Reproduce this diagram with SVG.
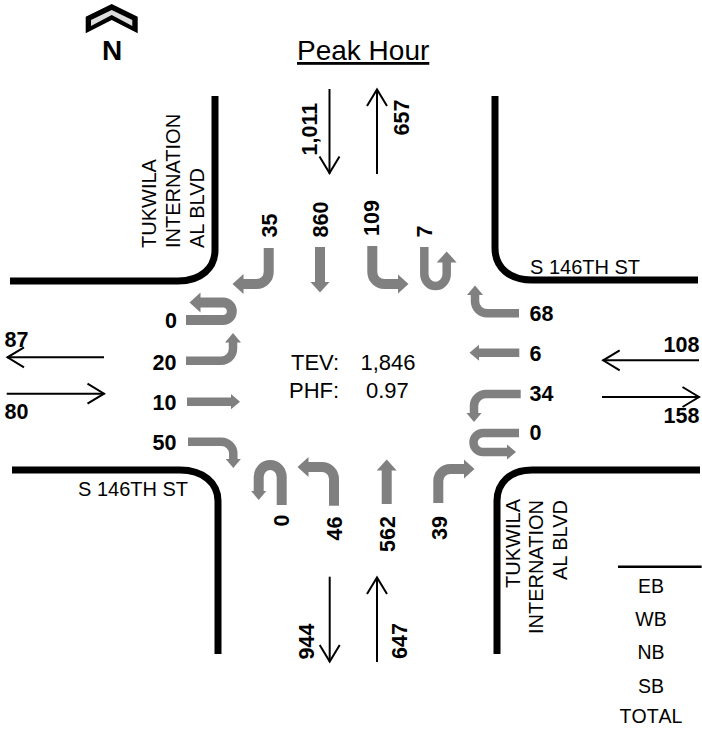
<svg xmlns="http://www.w3.org/2000/svg" width="702" height="730" viewBox="0 0 702 730">
<style>
text{font-family:"Liberation Sans",Arial,sans-serif;fill:#000}
.b{font-weight:700;font-size:21.5px}
.r{font-size:20px}
.c{font-size:22px}
.m{font-size:19.5px;text-anchor:middle}
.e{text-anchor:end}
.road{fill:none;stroke:#000;stroke-width:7}
.mv{fill:none;stroke:#808080;stroke-width:10}
.n{stroke-width:8.5}
.t{fill:none;stroke:#000;stroke-width:2}
</style>
<defs>
<marker id="h" markerUnits="userSpaceOnUse" orient="auto" markerWidth="14" markerHeight="22" refX="0.5" refY="10.5" viewBox="0 0 14 21"><path d="M0 0.5L11 10.5L0 20.5Z" fill="#808080"/></marker>
<marker id="k" markerUnits="userSpaceOnUse" orient="auto" markerWidth="14" markerHeight="18" refX="0.5" refY="8.5" viewBox="0 0 14 17"><path d="M0 0.5L9.5 8.5L0 16.5Z" fill="#808080"/></marker>
<marker id="o" markerUnits="userSpaceOnUse" orient="auto" markerWidth="22" markerHeight="24" refX="19" refY="12" viewBox="0 0 22 24"><path d="M2 2L18.5 12L2 22" fill="none" stroke="#000" stroke-width="2"/></marker>
</defs>
<g id="north"><path d="M85.7 16.7L111.7 4L137.7 16.7V33.3L111.7 20L85.7 33.3Z" fill="#000"/><path d="M91 20L111.7 10L132.3 20V26L111.7 15L91 26Z" fill="#ddd"/><text x="112" y="59.5" font-size="28" font-weight="700" text-anchor="middle">N</text></g>
<g id="title"><text x="297" y="60" font-size="28" text-decoration="underline">Peak Hour</text></g>
<g id="roads">
<path class="road" d="M10 281H178C201 281 215 268 215 250V96"/>
<path class="road" d="M495 96V248C495 268 510 280 532 280H698"/>
<path class="road" d="M12 470H180C203 470 218 483 218 501V654"/>
<path class="road" d="M700 470H532C510 470 497 483 497 501V654"/>
</g>
<g id="connectors">
<path class="t" marker-end="url(#o)" d="M329.5 89V173.5"/>
<path class="t" marker-end="url(#o)" d="M377 174V89"/>
<path class="t" marker-end="url(#o)" d="M329.7 576.7V662"/>
<path class="t" marker-end="url(#o)" d="M377 662V577"/>
<path class="t" marker-end="url(#o)" d="M104 357.3H7"/>
<path class="t" marker-end="url(#o)" d="M6.7 393.7H104.5"/>
<path class="t" marker-end="url(#o)" d="M699 360.3H602.7"/>
<path class="t" marker-end="url(#o)" d="M602 397H699.5"/>
<path class="mv" marker-end="url(#h)" d="M268.7 248V272A12 12 0 0 1 256.7 284H243"/>
<path class="mv" marker-end="url(#h)" d="M320 247V282"/>
<path class="mv" marker-end="url(#h)" d="M372.3 246V272A12 12 0 0 0 384.3 284H398"/>
<path class="mv n" marker-end="url(#h)" d="M424.3 247V274A11.2 12 0 0 0 446.7 274V262"/>
<path class="mv n" marker-end="url(#k)" d="M519 313.3H487A12 12 0 0 1 475 301.3V294.5"/>
<path class="mv n" marker-end="url(#k)" d="M519.3 352.7H478.5"/>
<path class="mv n" marker-end="url(#k)" d="M520.7 394H486A12 12 0 0 0 474 406V413"/>
<path class="mv n" marker-end="url(#k)" d="M519 433H483A9.5 9.5 0 0 0 483 452H507"/>
<path class="mv" marker-end="url(#h)" d="M186 320H223A8.8 8.8 0 0 0 223 302.4H200"/>
<path class="mv n" marker-end="url(#k)" d="M186 360.7H221A12 12 0 0 0 233 348.7V342"/>
<path class="mv n" marker-end="url(#k)" d="M187 401.7H231"/>
<path class="mv n" marker-end="url(#k)" d="M188 441.7H221.3A12 12 0 0 1 233.3 453.7V459"/>
<path class="mv" marker-end="url(#k)" d="M281.7 505V477A11.5 12 0 0 0 258.7 477V491"/>
<path class="mv" marker-end="url(#h)" d="M334 505.7V479A12 12 0 0 0 322 467H308"/>
<path class="mv" marker-end="url(#h)" d="M386.7 504V470"/>
<path class="mv" marker-end="url(#h)" d="M438.3 503V481A12 12 0 0 1 450.3 469H464"/>
</g>
<g id="street-labels">
<text class="r" transform="translate(155.7,248) rotate(-90)">TUKWILA</text>
<text class="r" transform="translate(180,248) rotate(-90)">INTERNATION</text>
<text class="r" transform="translate(204,248) rotate(-90)">AL BLVD</text>
<text class="r" x="530" y="274">S 146TH ST</text>
<text class="r" x="78" y="496">S 146TH ST</text>
<text class="r e" transform="translate(520,499) rotate(-90)">TUKWILA</text>
<text class="r e" transform="translate(543.3,500) rotate(-90)">INTERNATION</text>
<text class="r e" transform="translate(567,500) rotate(-90)">AL BLVD</text>
</g>
<g id="counts">
<text class="b" transform="translate(276.7,237.5) rotate(-90)">35</text>
<text class="b" transform="translate(328,237.5) rotate(-90)">860</text>
<text class="b" transform="translate(379.3,236) rotate(-90)">109</text>
<text class="b" transform="translate(431.7,237.5) rotate(-90)">7</text>
<text class="b" x="165" y="328.3">0</text>
<text class="b" x="152.5" y="370">20</text>
<text class="b" x="152.5" y="410">10</text>
<text class="b" x="152.5" y="450">50</text>
<text class="b" transform="translate(289.3,526.5) rotate(-90)">0</text>
<text class="b" transform="translate(342.3,540.5) rotate(-90)">46</text>
<text class="b" transform="translate(395,552) rotate(-90)">562</text>
<text class="b" transform="translate(446.7,540) rotate(-90)">39</text>
<text class="b" x="529.5" y="320.7">68</text>
<text class="b" x="529.5" y="360.7">6</text>
<text class="b" x="529.5" y="401">34</text>
<text class="b" x="529.5" y="440">0</text>
<text class="b" transform="translate(316.7,155.5) rotate(-90)">1,011</text>
<text class="b" transform="translate(409,135.5) rotate(-90)">657</text>
<text class="b" transform="translate(314,659.5) rotate(-90)">944</text>
<text class="b" transform="translate(406.7,659) rotate(-90)">647</text>
<text class="b" x="4.5" y="346.7">87</text>
<text class="b" x="4.5" y="419">80</text>
<text class="b" x="663.5" y="351.7">108</text>
<text class="b" x="663.5" y="423.3">158</text>
</g>
<g id="summary">
<text class="c" x="291" y="370">TEV:</text>
<text class="c" x="360.5" y="370">1,846</text>
<text class="c" x="289" y="398">PHF:</text>
<text class="c" x="366" y="398">0.97</text>
</g>
<g id="table">
<path d="M618 566.7H701.7" stroke="#000" stroke-width="2.5" fill="none"/>
<text class="m" x="651" y="592.7">EB</text>
<text class="m" x="651" y="626">WB</text>
<text class="m" x="651" y="659">NB</text>
<text class="m" x="651" y="692.7">SB</text>
<text class="m" x="651" y="723" style="font-kerning:none">TOTAL</text>
</g>
</svg>
